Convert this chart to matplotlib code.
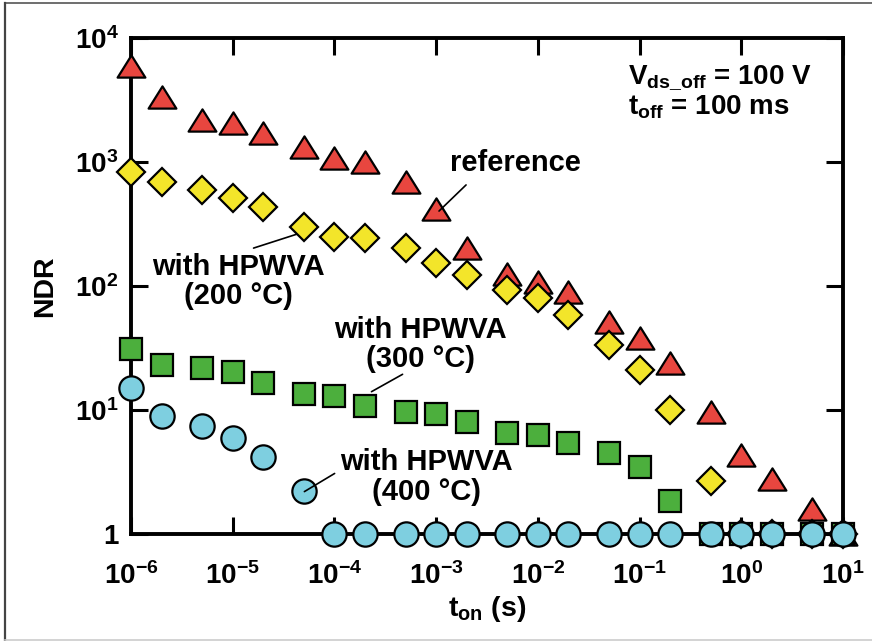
import numpy as np
import matplotlib
matplotlib.use("Agg")
import matplotlib.pyplot as plt
from matplotlib.path import Path
from matplotlib.lines import Line2D

plt.rcParams['font.family'] = ['Liberation Sans', 'DejaVu Sans']
plt.rcParams['font.weight'] = 'bold'
plt.rcParams['mathtext.fontset'] = 'custom'
plt.rcParams['mathtext.rm'] = 'Liberation Sans:bold'
plt.rcParams['mathtext.bf'] = 'Liberation Sans:bold'
plt.rcParams['mathtext.it'] = 'Liberation Sans:bold'

# on-time values (s)
t_on = [1e-6, 2e-6, 5e-6, 1e-5, 2e-5, 5e-5, 1e-4, 2e-4, 5e-4, 1e-3, 2e-3,
        5e-3, 1e-2, 2e-2, 5e-2, 0.1, 0.2, 0.5, 1, 2, 5, 10]

ndr_reference = [6000, 3360, 2180, 2050, 1700, 1310, 1070, 1000, 693, 418, 202,
                 125, 108, 90, 51.5, 38, 24, 9.6, 4.3, 2.8, 1.6, 1]
ndr_200 = [835, 694, 594, 509, 436, 301, 247, 243, 201, 153, 123,
           93, 80, 58, 33.4, 21, 10, 2.7, 1, 1, 1, 1]
ndr_300 = [30.9, 23, 21.7, 20.4, 16.6, 13.4, 13.0, 10.8, 9.7, 9.2, 8.0,
           6.5, 6.3, 5.4, 4.5, 3.5, 1.86, 1, 1, 1, 1, 1]
ndr_400 = [15.0, 8.9, 7.4, 6.0, 4.15, 2.23, 1, 1, 1, 1, 1,
           1, 1, 1, 1, 1, 1, 1, 1, 1, 1, 1]

xticks = [1e-6, 1e-5, 1e-4, 1e-3, 1e-2, 1e-1, 1, 10]
xticklabels = [r'$\mathbf{10^{-6}}$', r'$\mathbf{10^{-5}}$', r'$\mathbf{10^{-4}}$',
               r'$\mathbf{10^{-3}}$', r'$\mathbf{10^{-2}}$', r'$\mathbf{10^{-1}}$',
               r'$\mathbf{10^{0}}$', r'$\mathbf{10^{1}}$']
yticks = [1, 10, 100, 1000, 10000]
yticklabels = ['1', r'$\mathbf{10^{1}}$', r'$\mathbf{10^{2}}$',
               r'$\mathbf{10^{3}}$', r'$\mathbf{10^{4}}$']

fig = plt.figure(figsize=(8.72, 6.41), dpi=100)
ax = fig.add_axes([131/872, 1-534/641, 712/872, 496/641])

# wide triangle marker
tri = Path([(-1, -0.8), (1, -0.8), (0, 0.8), (-1, -0.8)], closed=True)

ec = 'black'
mew = 1.6
ax.plot(t_on, ndr_reference, ls='none', marker=tri, ms=20, mfc='#e8463f',
        mec=ec, mew=mew, clip_on=False, zorder=3)
ax.plot(t_on, ndr_200, ls='none', marker='D', ms=14.5, mfc='#f3e52a',
        mec=ec, mew=mew, clip_on=False, zorder=4)
ax.plot(t_on, ndr_300, ls='none', marker='s', ms=15.5, mfc='#4caf3d',
        mec=ec, mew=mew, clip_on=False, zorder=5)
ax.plot(t_on, ndr_400, ls='none', marker='o', ms=17.5, mfc='#7ecfe0',
        mec=ec, mew=mew, clip_on=False, zorder=6)

ax.set_xscale('log')
ax.set_yscale('log')
ax.set_xlim(1e-6, 10)
ax.set_ylim(1, 1e4)
ax.set_xticks(xticks)
ax.set_xticklabels(xticklabels)
ax.set_yticks(yticks)
ax.set_yticklabels(yticklabels)
ax.minorticks_off()
ax.tick_params(which='major', direction='in', length=12, width=2.2,
               labelsize=20, top=True, right=True)
ax.tick_params(axis='x', pad=20)
ax.tick_params(axis='y', pad=9)
for sp in ax.spines.values():
    sp.set_linewidth(2.8)
    sp.set_zorder(2)

ax.set_xlabel(r't$_{\mathbf{on}}$ (s)', fontsize=20.5, fontweight='bold', labelpad=3)
ax.set_ylabel('NDR', fontsize=20.5, fontweight='bold', labelpad=12)

# annotations
fs = 21
ax.text(6.0e-3, 980, 'reference', fontsize=fs, fontweight='bold',
        ha='center', va='center')
ax.annotate('', xy=(1.02e-3, 388), xytext=(2.06e-3, 677),
            arrowprops=dict(arrowstyle='-', lw=1.2, color='black'))

ax.text(1.15e-5, 108, 'with HPWVA\n(200 °C)', fontsize=fs, fontweight='bold',
        ha='center', va='center', linespacing=1.05)
ax.annotate('', xy=(4.6e-5, 267), xytext=(1.51e-5, 199),
            arrowprops=dict(arrowstyle='-', lw=1.2, color='black'))

ax.text(6.95e-4, 34, 'with HPWVA\n(300 °C)', fontsize=fs, fontweight='bold',
        ha='center', va='center', linespacing=1.05)
ax.annotate('', xy=(2.19e-4, 13.7), xytext=(4.94e-4, 19.9),
            arrowprops=dict(arrowstyle='-', lw=1.2, color='black'), zorder=7)

ax.text(7.96e-4, 2.88, 'with HPWVA\n(400 °C)', fontsize=fs, fontweight='bold',
        ha='center', va='center', linespacing=1.05)
ax.annotate('', xy=(4.8e-5, 2.14), xytext=(1.06e-4, 3.16),
            arrowprops=dict(arrowstyle='-', lw=1.2, color='black'), zorder=7)

ax.text(0.698, 0.919, r'V$_{\mathbf{ds\_off}}$ = 100 V', transform=ax.transAxes,
        fontsize=20, fontweight='bold', ha='left', va='center')
ax.text(0.698, 0.861, r't$_{\mathbf{off}}$ = 100 ms', transform=ax.transAxes,
        fontsize=20, fontweight='bold', ha='left', va='center')

# outer frame of the picture
fig.add_artist(Line2D([5/872, 1], [1-3/641, 1-3/641], color='#555555', lw=1.2))
fig.add_artist(Line2D([5/872, 5/872], [1/641, 1-3/641], color='#444444', lw=1.6))
fig.add_artist(Line2D([5/872, 1], [1.2/641, 1.2/641], color='#cccccc', lw=1.2))

fig.savefig('out.png', dpi=100)
